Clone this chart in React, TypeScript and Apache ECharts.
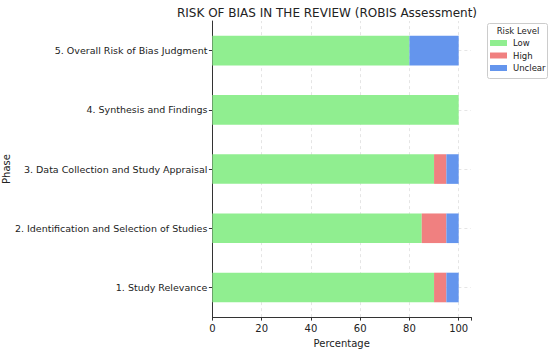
import React, { useEffect, useRef } from "react";
import * as echarts from "echarts";

const categories = [
  "1. Study Relevance",
  "2. Identification and Selection of Studies",
  "3. Data Collection and Study Appraisal",
  "4. Synthesis and Findings",
  "5. Overall Risk of Bias Judgment",
];
const lowValues = [90, 85, 90, 100, 80];
const highValues = [5, 10, 5, 0, 0];
const unclearValues = [5, 5, 5, 0, 20];
const xTicks = [0, 20, 40, 60, 80, 100];
const legendNames = ["Low", "High", "Unclear"];

const FONT = "DejaVu Sans";

export default function App() {
  const ref = useRef<HTMLDivElement>(null);
  useEffect(() => {
    if (!ref.current) return;
    const chart = echarts.init(ref.current, null, { renderer: "svg" });
    const grid = "#dedede";
    const option: any = {
      animation: false,
      textStyle: { fontFamily: FONT },
      title: {
        text: "RISK OF BIAS IN THE REVIEW (ROBIS Assessment)",
        left: 322,
        textAlign: "center",
        top: 2,
        textStyle: { fontFamily: FONT, fontSize: 12, fontWeight: "normal", color: "#222" },
      },
      grid: { left: 211, right: 79, top: 21, bottom: 31, containLabel: false },
      xAxis: {
        type: "value",
        min: 0,
        max: 105,
        interval: 20,
        name: "Percentage",
        nameLocation: "middle",
        nameGap: 18,
        nameTextStyle: { fontFamily: FONT, fontSize: 10, color: "#222" },
        axisLine: { show: true, lineStyle: { color: "#333", width: 1 } },
        axisTick: { show: true, length: 3.5, lineStyle: { color: "#333" } },
        axisLabel: {
          fontFamily: FONT,
          fontSize: 10,
          color: "#222",
          margin: 6,
          formatter: (v: number) => (xTicks.includes(v) ? String(v) : ""),
        },
        splitLine: { show: false },
      },
      yAxis: {
        type: "category",
        data: categories,
        name: "Phase",
        nameLocation: "middle",
        nameRotate: 90,
        nameGap: 190,
        nameTextStyle: { fontFamily: FONT, fontSize: 10, color: "#222" },
        axisLine: { show: true, lineStyle: { color: "#333", width: 1 } },
        axisTick: { show: true, alignWithLabel: true, length: 3.5, lineStyle: { color: "#333" } },
        axisLabel: { fontFamily: FONT, fontSize: 9.5, color: "#222", margin: 5 },
        splitLine: { show: false },
      },
      legend: {
        orient: "vertical",
        left: 490,
        top: 38.5,
        padding: 0,
        itemWidth: 17,
        itemHeight: 6,
        itemGap: 3.5,
        icon: "rect",
        data: legendNames,
        textStyle: { fontFamily: FONT, fontSize: 8.5, lineHeight: 9, color: "#222", padding: [0, 0, 0, 1] },
      },
      graphic: [
        {
          type: "rect",
          shape: { x: 487.5, y: 23.5, width: 60, height: 55, r: 2 },
          style: { fill: "#fff", stroke: "#cccccc", lineWidth: 1 },
          z: -1,
        },
        {
          type: "text",
          x: 518,
          y: 30.5,
          style: {
            text: "Risk Level",
            fontFamily: FONT,
            fontSize: 8.5,
            fill: "#222",
            textAlign: "center",
            textVerticalAlign: "middle",
          },
        },
      ],
      series: [
        {
          type: "line",
          data: [],
          z: 0,
          silent: true,
          markLine: {
            silent: true,
            z: 0,
            symbol: "none",
            label: { show: false },
            lineStyle: { color: grid, type: [3, 3], width: 0.8 },
            data: [
              ...xTicks.filter((v) => v > 0).map((v) => ({ xAxis: v })),
              ...categories.map((c) => ({ yAxis: c })),
            ],
          },
        },
        {
          name: "Low",
          type: "bar",
          stack: "risk",
          data: lowValues,
          barWidth: "50%",
          itemStyle: { color: "#90EE90" },
          z: 3,
        },
        {
          name: "High",
          type: "bar",
          stack: "risk",
          data: highValues,
          barWidth: "50%",
          itemStyle: { color: "#F08080" },
          z: 3,
        },
        {
          name: "Unclear",
          type: "bar",
          stack: "risk",
          data: unclearValues,
          barWidth: "50%",
          itemStyle: { color: "#6495ED" },
          z: 3,
        },
      ],
    };
    chart.setOption(option);
    return () => chart.dispose();
  }, []);
  return <div ref={ref} style={{ width: 550, height: 353, position: "absolute", left: 0, top: 0 }} />;
}
